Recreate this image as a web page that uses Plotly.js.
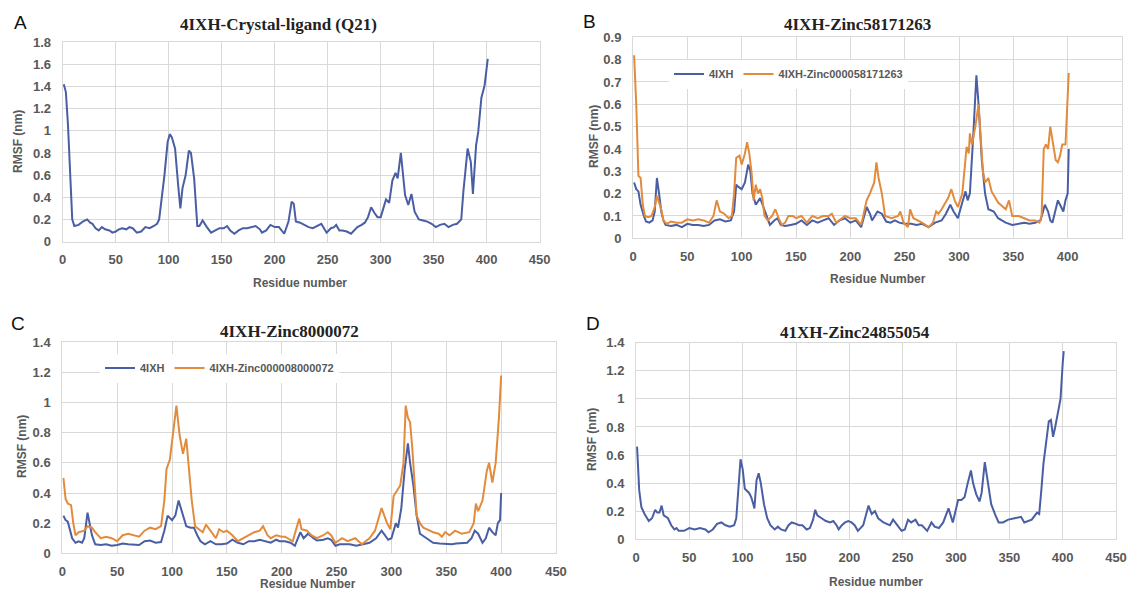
<!DOCTYPE html>
<html>
<head>
<meta charset="utf-8">
<script src="https://cdn.plot.ly/plotly-3.0.1.min.js"></script>
<style>html,body{margin:0;padding:0;background:#fff;}#chart{width:1132px;height:592px;}</style>
</head>
<body>
<div id="chart"></div>
<script>
// ---------- DATA ----------
const panelTitles = ["4IXH-Crystal-ligand (Q21)", "4IXH-Zinc58171263", "4IXH-Zinc8000072", "41XH-Zinc24855054"];
const panelLetters = ["A", "B", "C", "D"];
const xTitles = ["Residue number", "Residue Number", "Residue Number", "Residue number"];
const yTitle = "RMSF (nm)";
const seriesNames = ["4IXH", "4IXH-Zinc000058171263", "4IXH-Zinc000008000072"];

// Panel A: 4IXH-Crystal-ligand (Q21)
const resA = [1,3,5,7,9,11,15,19,23,26,28,31,34,37,40,44,47,50,53,56,60,63,66,70,74,78,82,86,89,91,93,96,99,101,103,106,109,111,113,116,119,121,124,127,129,132,136,140,144,148,152,155,158,162,166,170,174,178,182,186,188,192,196,200,204,209,213,216,218,220,224,228,232,236,240,244,247,249,253,256,258,261,264,268,272,275,278,282,285,288,291,294,297,300,303,305,308,311,314,316,319,321,323,326,329,332,336,340,344,348,352,356,360,364,368,372,376,378,380,382,385,387,390,392,395,398,401];
const rmsfA = [1.42,1.35,1.05,0.6,0.2,0.14,0.15,0.18,0.2,0.17,0.16,0.12,0.1,0.13,0.11,0.1,0.08,0.09,0.11,0.12,0.11,0.13,0.12,0.08,0.09,0.13,0.12,0.14,0.16,0.2,0.35,0.6,0.9,0.97,0.94,0.84,0.5,0.3,0.48,0.6,0.82,0.8,0.57,0.14,0.14,0.19,0.13,0.08,0.1,0.12,0.12,0.14,0.1,0.07,0.1,0.12,0.12,0.13,0.14,0.11,0.08,0.1,0.15,0.13,0.13,0.07,0.18,0.36,0.34,0.18,0.17,0.15,0.13,0.12,0.14,0.16,0.11,0.08,0.12,0.13,0.15,0.1,0.1,0.09,0.07,0.1,0.13,0.15,0.17,0.22,0.31,0.26,0.22,0.22,0.33,0.38,0.35,0.55,0.62,0.57,0.8,0.6,0.42,0.33,0.43,0.27,0.2,0.19,0.18,0.16,0.13,0.15,0.16,0.13,0.15,0.16,0.2,0.45,0.66,0.84,0.72,0.43,0.87,0.99,1.3,1.41,1.65];

// Panel B: 4IXH (apo) and 4IXH-Zinc000058171263
const resB_apo = [1,3,5,7,10,12,15,18,20,22,24,26,28,30,35,40,45,50,55,60,65,70,75,80,85,90,93,95,97,100,103,106,108,110,113,117,120,123,126,130,133,136,140,145,150,155,160,165,170,175,180,185,190,195,200,205,210,215,218,220,225,229,233,237,241,245,250,256,261,266,272,278,284,288,292,295,299,303,306,308,310,313,316,318,321,324,327,332,336,343,349,355,360,365,370,375,379,382,384,386,391,394,396,398,400,401];
const rmsfB_apo = [0.25,0.22,0.21,0.15,0.1,0.075,0.07,0.08,0.12,0.27,0.2,0.12,0.08,0.06,0.055,0.06,0.05,0.065,0.06,0.06,0.055,0.06,0.08,0.085,0.075,0.08,0.12,0.24,0.23,0.22,0.25,0.33,0.3,0.2,0.15,0.18,0.14,0.1,0.06,0.08,0.09,0.06,0.055,0.06,0.065,0.08,0.06,0.08,0.07,0.08,0.09,0.06,0.08,0.09,0.07,0.08,0.05,0.14,0.11,0.08,0.12,0.11,0.075,0.07,0.08,0.07,0.065,0.065,0.06,0.065,0.05,0.07,0.08,0.11,0.15,0.12,0.09,0.16,0.21,0.17,0.2,0.45,0.73,0.6,0.35,0.2,0.13,0.12,0.09,0.07,0.06,0.065,0.07,0.065,0.07,0.08,0.15,0.12,0.08,0.07,0.17,0.14,0.12,0.17,0.2,0.4];
const resB_lig = [1,3,5,7,9,11,14,17,20,22,24,26,28,31,35,40,45,50,55,60,65,70,74,77,80,84,88,91,93,95,98,100,103,105,107,109,111,113,115,117,119,121,124,128,131,134,137,140,143,147,150,155,160,165,170,175,180,183,187,190,195,200,205,210,215,218,222,224,226,229,232,238,244,246,249,253,255,258,262,266,272,276,279,281,284,290,293,296,299,303,304,307,309,310,312,315,318,319,322,324,327,330,336,343,346,349,355,360,365,370,374,376,378,380,382,384,387,389,391,393,395,398,401];
const rmsfB_lig = [0.82,0.6,0.28,0.27,0.15,0.1,0.095,0.1,0.14,0.19,0.16,0.13,0.08,0.065,0.075,0.07,0.07,0.085,0.08,0.085,0.08,0.07,0.1,0.17,0.12,0.11,0.09,0.1,0.2,0.36,0.37,0.33,0.38,0.43,0.38,0.3,0.17,0.24,0.2,0.22,0.18,0.1,0.08,0.1,0.13,0.09,0.06,0.07,0.1,0.1,0.09,0.1,0.07,0.1,0.09,0.1,0.1,0.11,0.07,0.08,0.1,0.09,0.09,0.06,0.17,0.2,0.25,0.34,0.27,0.2,0.1,0.09,0.1,0.12,0.07,0.05,0.13,0.09,0.08,0.07,0.05,0.07,0.12,0.11,0.13,0.18,0.22,0.17,0.14,0.2,0.25,0.41,0.38,0.47,0.42,0.5,0.6,0.52,0.3,0.25,0.27,0.21,0.16,0.13,0.17,0.1,0.1,0.09,0.08,0.08,0.07,0.1,0.4,0.42,0.4,0.5,0.4,0.35,0.34,0.37,0.42,0.42,0.74];

// Panel C: 4IXH (apo) and 4IXH-Zinc000008000072
const resC_apo = [1,3,5,7,9,12,15,18,20,23,25,27,30,35,40,45,50,55,60,65,70,75,80,85,90,93,96,100,103,106,108,110,113,117,120,123,126,130,135,140,145,150,155,160,165,170,175,180,185,190,195,198,203,208,212,217,220,224,229,232,238,242,245,249,253,258,262,268,274,280,286,291,294,297,300,304,306,309,312,315,317,320,323,326,332,338,344,350,355,359,364,369,373,376,379,383,386,389,392,395,397,399,400];
const rmsfC_apo = [0.25,0.22,0.21,0.16,0.1,0.07,0.08,0.07,0.1,0.27,0.18,0.12,0.06,0.055,0.06,0.05,0.055,0.065,0.06,0.055,0.055,0.08,0.085,0.07,0.075,0.15,0.25,0.22,0.25,0.35,0.3,0.25,0.18,0.17,0.17,0.12,0.08,0.06,0.08,0.06,0.06,0.065,0.09,0.07,0.06,0.08,0.08,0.09,0.08,0.07,0.09,0.08,0.08,0.07,0.05,0.14,0.1,0.13,0.1,0.085,0.09,0.1,0.09,0.05,0.06,0.06,0.06,0.05,0.06,0.07,0.1,0.15,0.12,0.09,0.1,0.2,0.17,0.3,0.55,0.73,0.6,0.45,0.25,0.13,0.1,0.07,0.065,0.06,0.06,0.065,0.07,0.07,0.1,0.15,0.13,0.07,0.1,0.17,0.14,0.12,0.2,0.22,0.4];
const resC_lig = [1,3,5,8,10,12,15,20,23,27,30,35,40,45,50,55,60,65,70,75,80,85,90,93,95,98,101,104,107,110,113,115,118,121,125,128,131,135,140,143,147,150,155,160,165,170,175,180,183,187,190,195,200,203,210,216,218,223,227,232,238,242,245,249,255,260,267,273,280,285,291,296,299,302,306,308,311,313,315,317,319,321,323,326,329,332,338,343,346,349,353,358,364,371,375,377,379,383,387,389,392,395,396,398,400];
const rmsfC_lig = [0.5,0.36,0.33,0.32,0.2,0.12,0.14,0.15,0.18,0.17,0.14,0.1,0.11,0.1,0.08,0.12,0.13,0.12,0.11,0.15,0.17,0.16,0.18,0.35,0.56,0.62,0.8,0.98,0.78,0.66,0.76,0.6,0.35,0.18,0.16,0.14,0.19,0.15,0.1,0.16,0.14,0.15,0.12,0.08,0.1,0.12,0.14,0.15,0.18,0.12,0.1,0.12,0.11,0.11,0.08,0.23,0.16,0.15,0.12,0.1,0.12,0.14,0.12,0.07,0.1,0.08,0.1,0.06,0.1,0.15,0.3,0.2,0.16,0.38,0.43,0.45,0.6,0.98,0.9,0.87,0.7,0.5,0.25,0.2,0.17,0.16,0.14,0.13,0.11,0.14,0.12,0.15,0.13,0.14,0.2,0.33,0.28,0.35,0.55,0.6,0.47,0.6,0.7,0.9,1.18];

// Panel D: 4IXH-Zinc24855054
const resD = [1,2,3,5,8,12,15,18,20,22,24,26,30,33,36,38,40,45,50,55,60,65,68,72,76,80,84,88,92,94,96,98,100,102,106,108,110,111,113,115,117,120,123,126,130,133,136,140,143,146,150,153,156,160,163,166,168,170,174,178,182,185,188,190,193,196,199,202,205,208,213,218,221,224,227,232,235,238,241,244,249,252,255,258,262,265,268,273,277,280,284,288,293,297,302,305,308,311,314,316,319,322,324,327,329,331,333,337,340,344,349,355,361,364,371,376,378,380,382,385,387,389,391,393,396,398,400,401];
const rmsfD = [0.66,0.5,0.35,0.23,0.18,0.13,0.15,0.21,0.19,0.19,0.24,0.17,0.15,0.1,0.07,0.08,0.06,0.06,0.08,0.07,0.08,0.07,0.05,0.07,0.11,0.12,0.1,0.09,0.1,0.15,0.35,0.57,0.5,0.36,0.33,0.3,0.25,0.22,0.42,0.47,0.4,0.25,0.15,0.1,0.07,0.09,0.07,0.06,0.1,0.12,0.11,0.1,0.1,0.07,0.08,0.14,0.21,0.17,0.15,0.13,0.12,0.13,0.1,0.07,0.1,0.12,0.13,0.12,0.1,0.06,0.1,0.24,0.18,0.2,0.15,0.12,0.11,0.1,0.14,0.11,0.06,0.07,0.14,0.12,0.14,0.1,0.1,0.06,0.12,0.09,0.08,0.12,0.22,0.12,0.28,0.28,0.3,0.4,0.49,0.4,0.32,0.27,0.33,0.55,0.45,0.38,0.25,0.17,0.12,0.12,0.14,0.15,0.16,0.12,0.14,0.19,0.18,0.35,0.54,0.72,0.84,0.85,0.73,0.8,0.93,1.0,1.25,1.34];

const xTicks = [0,50,100,150,200,250,300,350,400,450];
const yMax = [1.8, 0.9, 1.4, 1.4];
const yStep = [0.2, 0.1, 0.2, 0.2];

// ---------- STYLE ----------
const W = 1132, H = 592;
const BLUE = "#4a5ea3", ORANGE = "#e38b3d", GRID = "#d9d9d9", TXT = "#595959";
const fx = p => p / W, fy = p => 1 - p / H;

// plot-area pixel boxes [left, right, top, bottom]
const boxes = [[62.7, 539.7, 42.3, 241.5], [633, 1122, 37.3, 238.3], [62.3, 556, 342.3, 553.3], [636, 1116, 342.7, 539.3]];

const line = c => ({color: c, width: 2});
const traces = [
  {x: resA, y: rmsfA, xaxis: "x", yaxis: "y", mode: "lines", line: line(BLUE), name: seriesNames[0], showlegend: false},
  {x: resB_apo, y: rmsfB_apo, xaxis: "x2", yaxis: "y2", mode: "lines", line: line(BLUE), name: seriesNames[0], legend: "legend"},
  {x: resB_lig, y: rmsfB_lig, xaxis: "x2", yaxis: "y2", mode: "lines", line: line(ORANGE), name: seriesNames[1], legend: "legend"},
  {x: resC_apo, y: rmsfC_apo, xaxis: "x3", yaxis: "y3", mode: "lines", line: line(BLUE), name: seriesNames[0], legend: "legend2"},
  {x: resC_lig, y: rmsfC_lig, xaxis: "x3", yaxis: "y3", mode: "lines", line: line(ORANGE), name: seriesNames[2], legend: "legend2"},
  {x: resD, y: rmsfD, xaxis: "x4", yaxis: "y4", mode: "lines", line: line(BLUE), name: seriesNames[0], showlegend: false}
];

const tickFont = {family: "Liberation Sans, Arial, sans-serif", size: 13, color: TXT, weight: "bold"};
const legFont = {family: "Liberation Sans, Arial, sans-serif", size: 11, color: TXT, weight: "bold"};
const layout = {
  width: W, height: H,
  margin: {l: 0, r: 0, t: 0, b: 0},
  paper_bgcolor: "#fff", plot_bgcolor: "#fff",
  font: {family: "Liberation Sans, Arial, sans-serif"},
  annotations: [],
  legend: {orientation: "h", x: fx(669), xanchor: "left", y: fy(74), yanchor: "middle", bgcolor: "#fff",
           font: legFont, itemwidth: 30, tracegroupgap: 0},
  legend2: {orientation: "h", x: fx(100), xanchor: "left", y: fy(368), yanchor: "middle", bgcolor: "#fff",
           font: legFont, itemwidth: 30, tracegroupgap: 0}
};

const titlePos = [[278, 25], [858, 25], [289, 331], [855, 332]];
const letterPos = [[20, 22], [589, 21], [18, 323], [593, 323]];
const xTitlePos = [[300, 283], [878, 279], [308, 584], [876, 582]];
const yTitlePos = [[18, 142], [594, 137], [22, 447], [592, 440]];

for (let i = 0; i < 4; i++) {
  const s = i === 0 ? "" : String(i + 1);
  const b = boxes[i];
  layout["xaxis" + s] = {
    domain: [fx(b[0]), fx(b[1])], anchor: "y" + s, range: [0, 450], tickvals: xTicks,
    showgrid: true, gridcolor: GRID, gridwidth: 1, zeroline: false,
    showline: true, linecolor: GRID, mirror: true, ticks: "", tickfont: tickFont, ticklabelstandoff: 6, fixedrange: true
  };
  layout["yaxis" + s] = {
    domain: [fy(b[3]), fy(b[2])], anchor: "x" + s, range: [0, yMax[i]], dtick: yStep[i], tick0: 0,
    showgrid: true, gridcolor: GRID, gridwidth: 1, zeroline: false,
    showline: true, linecolor: GRID, mirror: true, ticks: "", tickfont: tickFont, ticklabelstandoff: 8, fixedrange: true
  };
  layout.annotations.push({text: "<b>" + panelTitles[i] + "</b>", xref: "paper", yref: "paper", x: fx(titlePos[i][0]), y: fy(titlePos[i][1]),
    xanchor: "center", yanchor: "middle", showarrow: false, font: {family: "Liberation Serif, Times New Roman, serif", size: 17, color: "#222"}});
  layout.annotations.push({text: panelLetters[i], xref: "paper", yref: "paper", x: fx(letterPos[i][0]), y: fy(letterPos[i][1]),
    xanchor: "center", yanchor: "middle", showarrow: false, font: {family: "Liberation Sans, Arial, sans-serif", size: 19, color: "#111"}});
  layout.annotations.push({text: "<b>" + xTitles[i] + "</b>", xref: "paper", yref: "paper", x: fx(xTitlePos[i][0]), y: fy(xTitlePos[i][1]),
    xanchor: "center", yanchor: "middle", showarrow: false, font: {family: "Liberation Sans, Arial, sans-serif", size: 12, color: TXT}});
  layout.annotations.push({text: "<b>" + yTitle + "</b>", xref: "paper", yref: "paper", x: fx(yTitlePos[i][0]), y: fy(yTitlePos[i][1]),
    xanchor: "center", yanchor: "middle", textangle: -90, showarrow: false, font: {family: "Liberation Sans, Arial, sans-serif", size: 12, color: TXT}});
}

Plotly.newPlot("chart", traces, layout, {displayModeBar: false, staticPlot: true});
</script>
</body>
</html>
